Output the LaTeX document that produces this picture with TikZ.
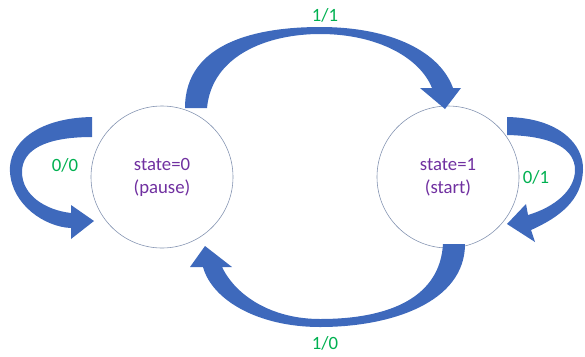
\documentclass[tikz,border=0pt]{standalone}
\usepackage{fontspec}
\setmainfont{Carlito}
\usepackage{xcolor}
\usepackage{tikz}

\definecolor{arrowblue}{RGB}{62,105,188}
\definecolor{ringgray}{RGB}{130,146,176}
\definecolor{statepurple}{RGB}{112,48,160}
\definecolor{labelgreen}{RGB}{0,176,80}

\begin{document}
\begin{tikzpicture}[x=0.03cm, y=-0.03cm,
    state/.style={circle, draw=ringgray, line width=0.5pt, minimum size=4.26cm,
      inner sep=0pt, align=center, text=statepurple,
      font=\fontsize{16}{19.5}\selectfont},
    lbl/.style={text=labelgreen, font=\fontsize{16}{19}\selectfont},
    blockarrow/.style={fill=arrowblue}]
  \useasboundingbox (0,0) rectangle (585,356);

  % States
  \node[state] (s0) at (162,177) {state=0\\(pause)};
  \node[state] (s1) at (448,177) {state=1\\(start)};

  % 1/1 : pause -> start (over the top)
  \fill[blockarrow] (185,108) .. controls (185,42) and (258,27) .. (320,27)
    .. controls (392,27) and (440,52) .. (453,88) -- (461,88) -- (445,109)
    -- (420,88) -- (432,88) .. controls (420,58) and (378,34) .. (320,34)
    .. controls (268,34) and (212,55) .. (207,108) -- cycle;
  \node[lbl] (l11) at (325,15) {1/1};

  % 1/0 : start -> pause (underneath)
  \fill[blockarrow] (465,244) .. controls (465,302) and (392,327) .. (320,327)
    .. controls (258,327) and (212,300) .. (203,267) -- (190,267) -- (205,246)
    -- (232,267) -- (222,267) .. controls (236,296) and (272,319) .. (320,319)
    .. controls (392,319) and (440,296) .. (443,244) -- cycle;
  \node[lbl] (l10) at (325,343) {1/0};

  % 0/0 : loop on pause
  \fill[blockarrow] (92,117) .. controls (35,118) and (8,145) .. (10,172)
    .. controls (12,205) and (45,227) .. (71,228) -- (71,239) -- (94,221)
    -- (71,205) -- (71,213) .. controls (45,210) and (22,195) .. (22,172)
    .. controls (22,150) and (45,137) .. (92,137) -- cycle;
  \node[lbl] (l00) at (65,165) {0/0};

  % 0/1 : loop on start
  \fill[blockarrow] (507,117) .. controls (560,118) and (584,145) .. (583,170)
    .. controls (582,200) and (560,217) .. (531,230) -- (535,242) -- (507,224)
    -- (526,204) -- (528,215) .. controls (555,207) and (575,190) .. (575,170)
    .. controls (575,150) and (555,136) .. (507,135) -- cycle;
  \node[lbl] (l01) at (536,177) {0/1};
\end{tikzpicture}
\end{document}
